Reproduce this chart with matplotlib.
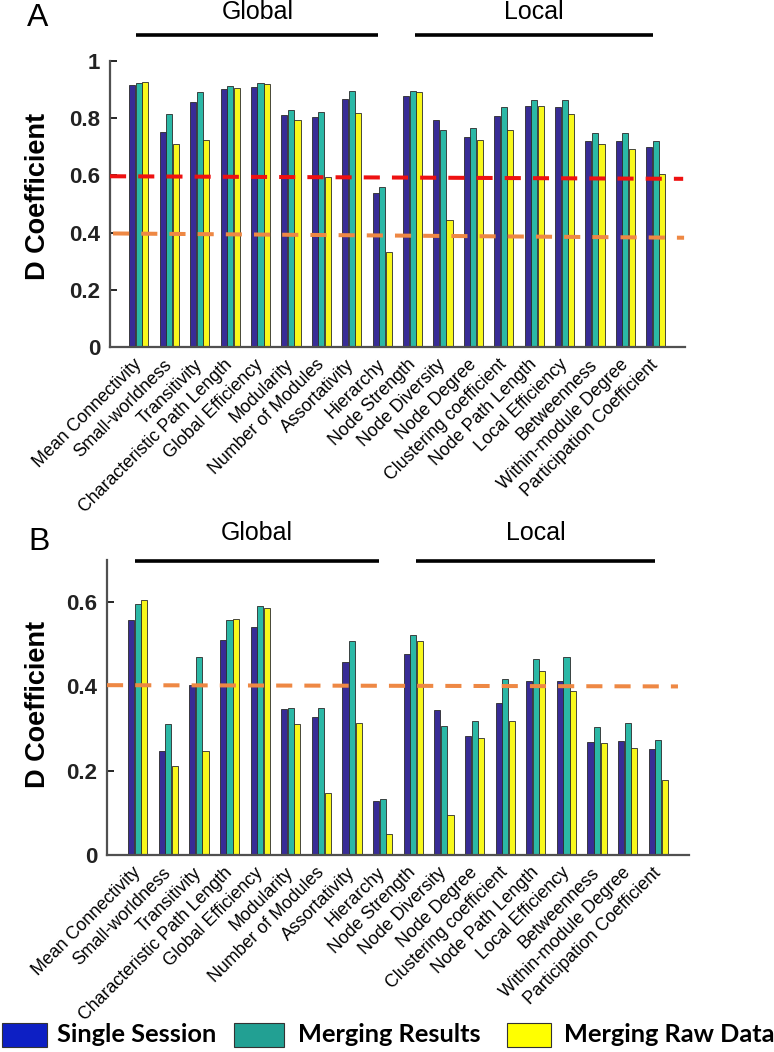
import numpy as np
import matplotlib
matplotlib.use('Agg')
import matplotlib.pyplot as plt
from matplotlib.patches import Rectangle

plt.rcParams['font.family'] = ['Liberation Sans', 'DejaVu Sans']

measures = ['Mean Connectivity', 'Small-worldness', 'Transitivity',
            'Characteristic Path Length', 'Global Efficiency', 'Modularity',
            'Number of Modules', 'Assortativity', 'Hierarchy',
            'Node Strength', 'Node Diversity', 'Node Degree',
            'Clustering coefficient', 'Node Path Length', 'Local Efficiency',
            'Betweenness', 'Within-module Degree', 'Participation Coefficient']
series = ['Single Session', 'Merging Results', 'Merging Raw Data']

# panel A
a_single = [0.916, 0.753, 0.857, 0.901, 0.910, 0.811, 0.805, 0.868, 0.540,
            0.878, 0.795, 0.733, 0.807, 0.841, 0.839, 0.720, 0.719, 0.698]
a_results = [0.922, 0.814, 0.890, 0.912, 0.922, 0.827, 0.823, 0.894, 0.558,
             0.894, 0.758, 0.764, 0.840, 0.864, 0.865, 0.750, 0.750, 0.719]
a_raw = [0.925, 0.711, 0.725, 0.905, 0.919, 0.795, 0.593, 0.819, 0.331,
         0.890, 0.444, 0.725, 0.758, 0.841, 0.813, 0.709, 0.691, 0.604]

# panel B
b_single = [0.558, 0.246, 0.403, 0.509, 0.542, 0.346, 0.327, 0.458, 0.127,
            0.478, 0.343, 0.283, 0.361, 0.414, 0.412, 0.268, 0.270, 0.252]
b_results = [0.596, 0.311, 0.471, 0.558, 0.592, 0.350, 0.350, 0.508, 0.133,
             0.523, 0.306, 0.319, 0.418, 0.466, 0.471, 0.304, 0.314, 0.272]
b_raw = [0.606, 0.212, 0.246, 0.559, 0.587, 0.311, 0.146, 0.314, 0.050,
         0.508, 0.096, 0.278, 0.317, 0.437, 0.390, 0.266, 0.255, 0.179]

# threshold lines (left value, right value)
a_red = (0.597, 0.588)
a_orange = (0.397, 0.382)
b_orange = (0.403, 0.400)

bar_colors = ['#382c96', '#2bb8a6', '#f8f81c']
legend_colors = ['#0d1fc4', '#22a093', '#ffff00']

W, H = 774, 1052
fig = plt.figure(figsize=(W / 100, H / 100), dpi=100)


def px(x, y):
    return x / W, 1 - y / H


def panel(rect, vals, ylim, yticks, ylabels):
    ax = fig.add_axes(rect)
    x = np.arange(1, len(measures) + 1)
    for k, v in enumerate(vals):
        ax.bar(x + (k - 1) * 0.215, v, width=0.2, color=bar_colors[k],
               edgecolor='#2a2a2a', linewidth=0.6, zorder=2)
    ax.set_ylim(*ylim)
    ax.set_yticks(yticks)
    ax.set_yticklabels(ylabels, fontsize=16, fontweight='bold', color='#222222')
    ax.set_xticks(x)
    ax.set_xticklabels(measures, rotation=45, ha='right', va='center',
                       rotation_mode='anchor', fontsize=12.8)
    ax.set_xticks([5, 10, 15], minor=True)
    ax.tick_params(axis='x', which='major', length=0, pad=11)
    ax.tick_params(axis='x', which='minor', direction='in', length=4, width=1)
    ax.tick_params(axis='y', direction='in', length=5, width=1.2, pad=7)
    for s in ['top', 'right']:
        ax.spines[s].set_visible(False)
    for s in ['left', 'bottom']:
        ax.spines[s].set_color('#505050')
        ax.spines[s].set_linewidth(1.6)
    return ax


def groups(ax, line_y, text_y):
    tr = ax.get_xaxis_transform()
    for name, (x0, x1) in [('Global', (0.92, 8.87)), ('Local', (10.08, 17.9))]:
        ax.plot([x0, x1], [line_y, line_y], color='black', lw=2.6,
                transform=tr, clip_on=False, solid_capstyle='butt')
        ax.text((x0 + x1) / 2, text_y, name, transform=tr, ha='center',
                va='center', fontsize=18)


axA = panel([110 / W, 1 - 347 / H, 575 / W, 286 / H],
            [a_single, a_results, a_raw], (0, 1),
            [0, 0.2, 0.4, 0.6, 0.8, 1], ['0', '0.2', '0.4', '0.6', '0.8', '1'])
axA.set_xlim(0.05, 18.96)
axA.plot([0.05, 18.9], a_red, color='#ee1111', lw=2.9,
         linestyle=(0, (4, 3)), zorder=3, clip_on=False)
axA.plot([0.15, 18.93], a_orange, color='#ee8844', lw=2.9,
         linestyle=(0, (4, 3)), zorder=3, clip_on=False)
groups(axA, 1.091, 1.171)

axB = panel([107 / W, 1 - 855 / H, 582 / W, 295 / H],
            [b_single, b_results, b_raw], (0, 0.7),
            [0, 0.2, 0.4, 0.6], ['0', '0.2', '0.4', '0.6'])
axB.set_xlim(0.0, 19.0)
axB.plot([0.0, 18.64], b_orange, color='#ee8844', lw=2.9,
         linestyle=(0, (4, 3)), zorder=3, clip_on=False)
groups(axB, 0.998, 1.092)

# panel letters and y labels
fig.text(*px(27, 3), 'A', fontsize=23, va='top', ha='left')
fig.text(*px(28, 527), 'B', fontsize=23, va='top', ha='left')
fig.text(*px(38, 196), 'D Coefficient', rotation=90, fontsize=19.5,
         fontweight='bold', ha='center', va='center')
fig.text(*px(38, 704), 'D Coefficient', rotation=90, fontsize=19.5,
         fontweight='bold', ha='center', va='center')

# legend
patch_x = [(2, 47), (234, 284), (507, 551)]
text_x = [57, 298, 564]
for (x0, x1), tx, c, name in zip(patch_x, text_x, legend_colors, series):
    fx0, fy0 = px(x0, 1047)
    fx1, fy1 = px(x1, 1023)
    fig.patches.append(Rectangle((fx0, fy0), fx1 - fx0, fy1 - fy0,
                                 transform=fig.transFigure, facecolor=c,
                                 edgecolor='#333333', linewidth=0.8))
    fig.text(*px(tx, 1035), name, fontsize=18.3, fontweight='bold',
             family=['Lato', 'DejaVu Sans'], va='center', ha='left')

fig.savefig('out.png', dpi=100)
